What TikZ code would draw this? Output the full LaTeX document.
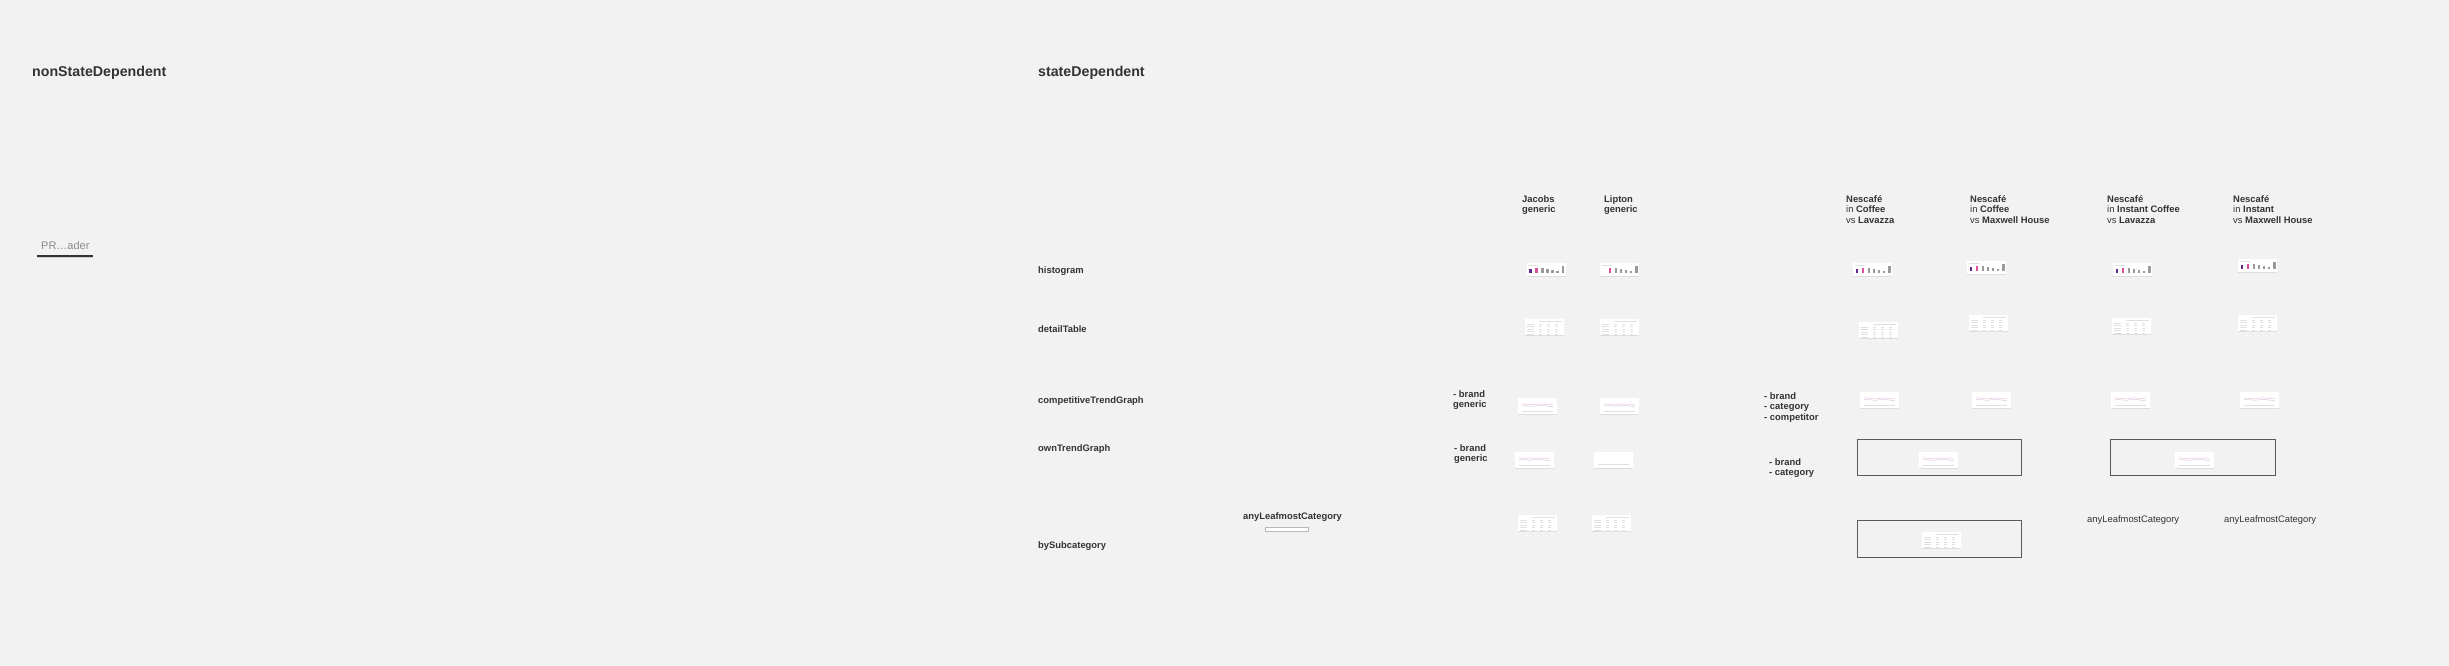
\documentclass[tikz,border=0pt]{standalone}
\usepackage{fontspec}
\setmainfont{Liberation Sans}
\usetikzlibrary{shadows}
\definecolor{bg}{HTML}{F2F2F2}
\definecolor{txt}{HTML}{333333}
\definecolor{hpurple}{HTML}{5E2B8C}
\definecolor{hpink}{HTML}{E0509A}
\definecolor{hgray}{HTML}{9A9A9A}
\definecolor{boxc}{HTML}{5A5A5A}
\definecolor{faint}{HTML}{E0E0E0}
\newcommand{\histfill}[2]{%
  \begin{scope}[shift={(#1.north west)}]
    \draw[faint, line width=0.5pt] (2,2) -- (12,2);
    \fill[#2] (3,6.5) rectangle (5.5,10.5);
    \fill[hpink] (9,5) rectangle (11.5,10.5);
    \fill[hgray] (15,5) rectangle (17.5,10.5);
    \fill[hgray] (20,6) rectangle (22.5,10.5);
    \fill[hgray] (25,7) rectangle (27.5,10.5);
    \fill[hgray] (30,8.5) rectangle (32.5,10.5);
    \fill[hgray] (35.5,3.5) rectangle (38,10.5);
  \end{scope}}
\newcommand{\tablefill}[1]{%
  \begin{scope}[shift={(#1.north west)}]
    \foreach \r in {5,7.5,10,12.5,15} {\draw[faint, line width=0.5pt] (2,\r) -- (9,\r);
      \draw[faint, line width=0.5pt] (14,\r) -- (17,\r);
      \draw[faint, line width=0.5pt] (22,\r) -- (25,\r);
      \draw[faint, line width=0.5pt] (30,\r) -- (33,\r);}
    \draw[faint, line width=0.5pt] (14,2) -- (37,2);
  \end{scope}}
\newcommand{\trendfill}[1]{%
  \begin{scope}[shift={(#1.north west)}]
    \draw[hpink!35, line width=0.5pt] (4,6) -- (10,6.5) -- (16,7) -- (22,6) -- (28,6.5) -- (35,7);
    \draw[hpurple!25, line width=0.5pt] (4,7.5) -- (10,8) -- (16,8.5) -- (22,7.5) -- (28,8) -- (35,9);
    \draw[faint, line width=0.5pt] (4,13) -- (35,13);
  \end{scope}}
\begin{document}
\begin{tikzpicture}[x=1pt,y=-1pt,
  title/.style={font=\fontsize{14.2}{17}\selectfont\bfseries, text=txt, anchor=west, inner sep=0},
  rowlab/.style={font=\fontsize{9.4}{10.5}\selectfont\bfseries, text=txt, anchor=west, inner sep=0},
  plainlab/.style={font=\fontsize{9.4}{10.5}\selectfont, text=txt, anchor=west, inner sep=0},
  hdr/.style={font=\fontsize{9.4}{10.6}\selectfont, text=txt, anchor=north west, align=left, inner sep=0},
  thumb/.style={fill=white, inner sep=0, minimum width=39pt, minimum height=16pt,
    drop shadow={shadow xshift=0pt, shadow yshift=-1pt, opacity=0.18}},
  histthumb/.style={thumb, minimum height=13pt},
  frame/.style={draw=boxc, line width=1pt, inner sep=0}
]
\useasboundingbox (0,0) rectangle (2449,666);
\fill[bg] (0,0) rectangle (2449,666);

% titles
\node[title] (nsd) at (32,73) {nonStateDependent};
\node[title] (sd) at (1038,73) {stateDependent};

% PR...ader
\node[font=\fontsize{11}{13}\selectfont, text=hgray!90!black, anchor=west, inner sep=0] (prl) at (41,245.5) {PR…ader};
\node[fill=txt, inner sep=0, minimum width=56pt, minimum height=2pt,
  drop shadow={shadow xshift=0pt, shadow yshift=-1pt, opacity=0.3}] (prbar) at (65,256) {};

% row labels
\node[rowlab] (rHist) at (1038,271) {histogram};
\node[rowlab] (rDet) at (1038,329) {detailTable};
\node[rowlab] (rComp) at (1038,401) {competitiveTrendGraph};
\node[rowlab] (rOwn) at (1038,449) {ownTrendGraph};
\node[rowlab] (rSub) at (1038,546) {bySubcategory};

% column headers
\node[hdr, font=\fontsize{9.4}{10.6}\selectfont\bfseries] (hJac) at (1522,195) {Jacobs\\generic};
\node[hdr, font=\fontsize{9.4}{10.6}\selectfont\bfseries] (hLip) at (1604,195) {Lipton\\generic};
\node[hdr] (hN1) at (1846,195) {\textbf{Nescafé}\\in \textbf{Coffee}\\vs \textbf{Lavazza}};
\node[hdr] (hN2) at (1970,195) {\textbf{Nescafé}\\in \textbf{Coffee}\\vs \textbf{Maxwell House}};
\node[hdr] (hN3) at (2107,195) {\textbf{Nescafé}\\in \textbf{Instant Coffee}\\vs \textbf{Lavazza}};
\node[hdr] (hN4) at (2233,195) {\textbf{Nescafé}\\in \textbf{Instant}\\vs \textbf{Maxwell House}};

% side notes
\node[hdr, font=\fontsize{9.4}{10.6}\selectfont\bfseries] (nComp1) at (1453,390) {- brand\\generic};
\node[hdr, font=\fontsize{9.4}{10.6}\selectfont\bfseries] (nOwn1) at (1454,444) {- brand\\generic};
\node[hdr, font=\fontsize{9.4}{10.6}\selectfont\bfseries] (nComp2) at (1764,392) {- brand\\- category\\- competitor};
\node[hdr, font=\fontsize{9.4}{10.6}\selectfont\bfseries] (nOwn2) at (1769,458) {- brand\\- category};

% any leafmost labels
\node[rowlab] (aLeaf) at (1243,517) {anyLeafmostCategory};
\node[fill=white, draw=hgray!70, line width=0.6pt, inner sep=0, minimum width=43pt, minimum height=4pt,
  drop shadow={shadow xshift=0pt, shadow yshift=-0.6pt, opacity=0.2}] (aLeafBar) at (1286.5,529) {};
\node[plainlab] (aLeaf3) at (2087,520) {anyLeafmostCategory};
\node[plainlab] (aLeaf4) at (2224,520) {anyLeafmostCategory};

% frames
\node[frame, minimum width=164pt, minimum height=36pt] (fr1) at (1939,457) {};
\node[frame, minimum width=165pt, minimum height=36pt] (fr2) at (2192.5,457) {};
\node[frame, minimum width=164pt, minimum height=37pt] (fr3) at (1939,538.5) {};

% histograms
\node[histthumb] (hiJ) at (1546,269.5) {};
\node[histthumb] (hiL) at (1619.5,269.5) {};
\node[histthumb] (hiN1) at (1872.5,269.5) {};
\node[histthumb] (hiN2) at (1986.5,267.5) {};
\node[histthumb] (hiN3) at (2132.5,269.5) {};
\node[histthumb] (hiN4) at (2257.5,265.5) {};
\histfill{hiJ}{hpurple}
\histfill{hiL}{white}
\histfill{hiN1}{hpurple}
\histfill{hiN2}{hpurple}
\histfill{hiN3}{hpurple}
\histfill{hiN4}{hpurple}

% detail tables
\node[thumb] (dtJ) at (1544.5,327) {};
\node[thumb] (dtL) at (1619.5,327) {};
\node[thumb] (dtN1) at (1878.5,330) {};
\node[thumb] (dtN2) at (1988.5,323) {};
\node[thumb] (dtN3) at (2131.5,326) {};
\node[thumb] (dtN4) at (2257.5,323) {};
\tablefill{dtJ}\tablefill{dtL}\tablefill{dtN1}\tablefill{dtN2}\tablefill{dtN3}\tablefill{dtN4}

% competitive trend
\node[thumb] (ctJ) at (1537.5,406) {};
\node[thumb] (ctL) at (1619.5,406) {};
\node[thumb] (ctN1) at (1879.5,400) {};
\node[thumb] (ctN2) at (1991.5,400) {};
\node[thumb] (ctN3) at (2130.5,400) {};
\node[thumb] (ctN4) at (2259.5,400) {};
\trendfill{ctJ}\trendfill{ctL}\trendfill{ctN1}\trendfill{ctN2}\trendfill{ctN3}\trendfill{ctN4}

% own trend
\node[thumb] (otJ) at (1534.5,460) {};
\node[thumb] (otL) at (1613.5,460) {};
\node[thumb] (otN1) at (1938.5,460) {};
\node[thumb] (otN3) at (2194.5,460) {};
\trendfill{otJ}\trendfill{otN1}\trendfill{otN3}
\begin{scope}[shift={(otL.north west)}]
  \draw[faint, line width=0.5pt] (4,12) -- (35,12);
\end{scope}

% by subcategory
\node[thumb] (bsJ) at (1537.5,523) {};
\node[thumb] (bsL) at (1611.5,523) {};
\node[thumb] (bsN1) at (1941.5,540) {};
\tablefill{bsJ}\tablefill{bsL}\tablefill{bsN1}
\end{tikzpicture}
\end{document}
